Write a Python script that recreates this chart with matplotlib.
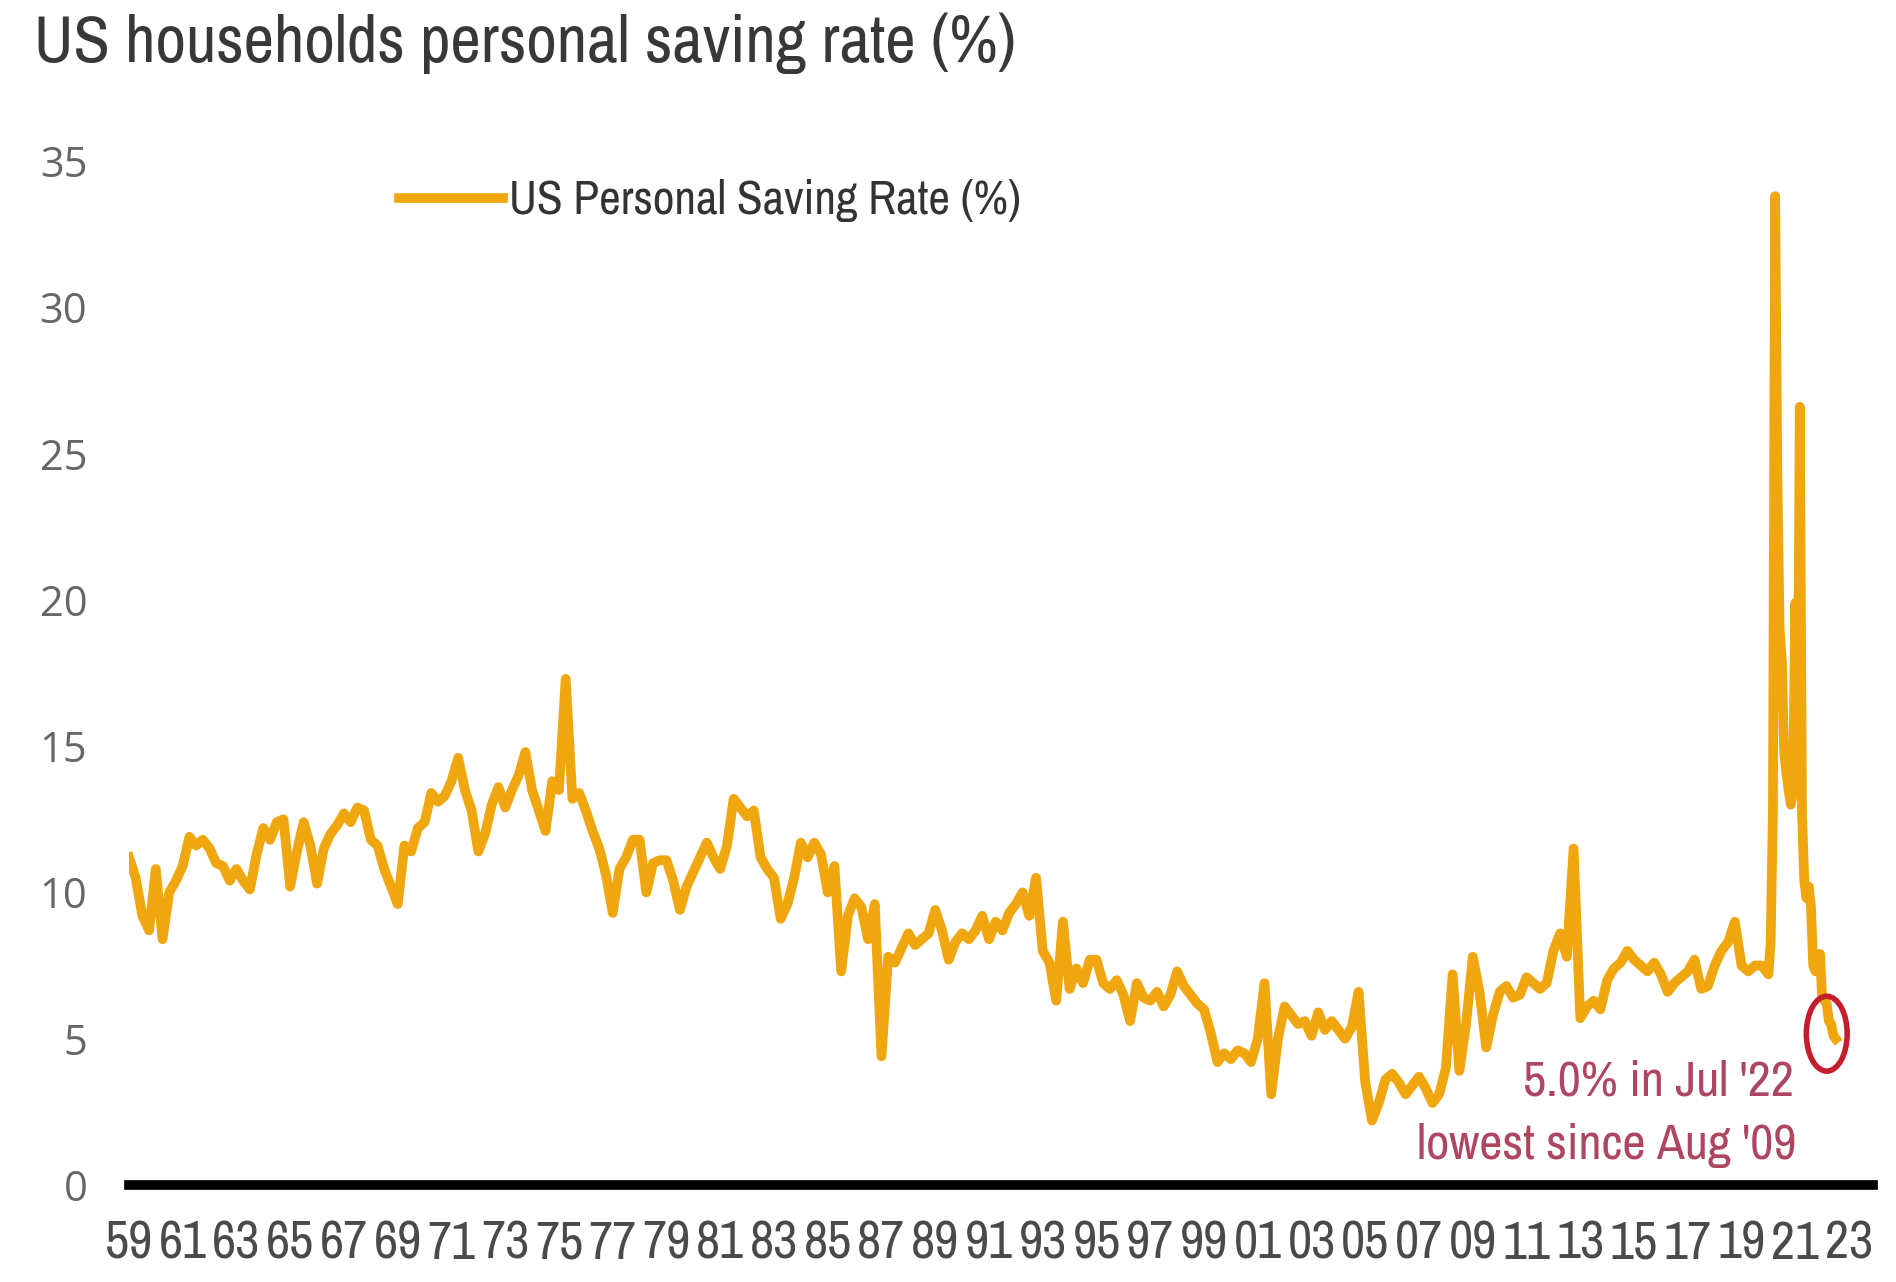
import numpy as np
import matplotlib
matplotlib.use('Agg')
import matplotlib.pyplot as plt
from matplotlib import font_manager
from matplotlib.patches import Ellipse

# personal saving rate, quarterly readings 1959-2019 (one row per year)
saving_q = [
    11.2, 10.5, 9.2, 8.7,     # 1959
    10.8, 8.4, 10.0, 10.4,    # 1960
    10.9, 11.9, 11.6, 11.8,   # 1961
    11.5, 11.0, 10.9, 10.4,   # 1962
    10.8, 10.4, 10.1, 11.3,   # 1963
    12.2, 11.8, 12.4, 12.5,   # 1964
    10.2, 11.4, 12.4, 11.6,   # 1965
    10.3, 11.5, 12.0, 12.3,   # 1966
    12.7, 12.4, 12.9, 12.8,   # 1967
    11.8, 11.6, 10.8, 10.2,   # 1968
    9.6, 11.6, 11.4, 12.2,    # 1969
    12.4, 13.4, 13.1, 13.3,   # 1970
    13.8, 14.6, 13.5, 12.8,   # 1971
    11.4, 12.0, 13.0, 13.6,   # 1972
    12.9, 13.5, 14.0, 14.8,   # 1973
    13.5, 12.8, 12.1, 13.8,   # 1974
    13.5, 17.3, 13.2, 13.4,   # 1975
    12.8, 12.1, 11.5, 10.6,   # 1976
    9.3, 10.8, 11.2, 11.8,    # 1977
    11.8, 10.0, 11.0, 11.1,   # 1978
    11.1, 10.4, 9.4, 10.2,    # 1979
    10.7, 11.2, 11.7, 11.2,   # 1980
    10.8, 11.6, 13.2, 12.9,   # 1981
    12.6, 12.8, 11.2, 10.8,   # 1982
    10.5, 9.1, 9.6, 10.5,     # 1983
    11.7, 11.2, 11.7, 11.3,   # 1984
    10.0, 10.9, 7.3, 9.2,     # 1985
    9.8, 9.5, 8.4, 9.6,       # 1986
    4.4, 7.8, 7.6, 8.1,       # 1987
    8.6, 8.2, 8.4, 8.6,       # 1988
    9.4, 8.7, 7.7, 8.3,       # 1989
    8.6, 8.4, 8.7, 9.2,       # 1990
    8.4, 9.0, 8.7, 9.3,       # 1991
    9.6, 10.0, 9.2, 10.5,     # 1992
    8.0, 7.6, 6.3, 9.0,       # 1993
    6.7, 7.4, 6.9, 7.7,       # 1994
    7.7, 6.9, 6.7, 7.0,       # 1995
    6.5, 5.6, 6.9, 6.4,       # 1996
    6.3, 6.6, 6.1, 6.5,       # 1997
    7.3, 6.8, 6.5, 6.2,       # 1998
    6.0, 5.2, 4.2, 4.5,       # 1999
    4.3, 4.6, 4.5, 4.2,       # 2000
    5.0, 6.9, 3.1, 5.0,       # 2001
    6.1, 5.8, 5.5, 5.6,       # 2002
    5.1, 5.9, 5.3, 5.6,       # 2003
    5.3, 5.0, 5.4, 6.6,       # 2004
    3.5, 2.2, 2.8, 3.6,       # 2005
    3.8, 3.5, 3.1, 3.4,       # 2006
    3.7, 3.3, 2.8, 3.1,       # 2007
    4.0, 7.2, 3.9, 5.5,       # 2008
    7.8, 6.6, 4.7, 5.8,       # 2009
    6.6, 6.8, 6.4, 6.5,       # 2010
    7.1, 6.9, 6.7, 6.9,       # 2011
    8.0, 8.6, 7.8, 11.5,      # 2012
    5.7, 6.1, 6.3, 6.0,       # 2013
    7.0, 7.4, 7.6, 8.0,       # 2014
    7.7, 7.5, 7.3, 7.6,       # 2015
    7.2, 6.6, 6.9, 7.1,       # 2016
    7.3, 7.7, 6.7, 6.8,       # 2017
    7.5, 8.0, 8.3, 9.0,       # 2018
    7.5, 7.3, 7.5, 7.5,       # 2019
]

# monthly from Jan 2020 to Jul 2022
saving_m = [
    7.2, 8.3, 12.8, 33.8, 24.2, 19.0, 17.9, 14.8, 14.1, 13.5, 13.0, 13.4,
    19.9, 13.4, 26.6, 12.7, 10.4, 9.8, 10.2, 9.5, 7.5, 7.3, 7.4, 7.9,
    6.4, 6.3, 6.2, 5.6, 5.5, 5.1, 5.0,
]

tick_years = list(range(1959, 2024, 2))
tick_labels = ["%02d" % (yr % 100) for yr in tick_years]

x_q = 1959 + np.arange(len(saving_q)) / 4
x_m = 2020 + np.arange(len(saving_m)) / 12
x = np.concatenate([x_q, x_m])
y = np.array(saving_q + saving_m)


def pick_narrow_font():
    # prefer a condensed sans if one is installed, else plain Liberation Sans
    for f in font_manager.fontManager.ttflist:
        nm = f.name.lower()
        if ('narrow' in nm or 'condensed' in nm) and 'mono' not in nm and 'serif' not in nm:
            return {'family': f.name, 'stretch': 'normal'}, 1.0
    for f in font_manager.fontManager.ttflist:
        if f.name == 'DejaVu Sans' and str(f.stretch) in ('condensed', 'semi-condensed'):
            return {'family': 'DejaVu Sans', 'stretch': 'condensed'}, 0.9
    return {'family': 'Liberation Sans', 'stretch': 'normal'}, 0.82


narrow, k = pick_narrow_font()
gold = '#F0A70F'
red_txt = '#AE4662'

fig = plt.figure(figsize=(18.96, 12.82), dpi=100)
ax = fig.add_axes([0.068, 0.0757, 0.920, 0.7987])

ax.plot(x, y, color=gold, lw=7, solid_joinstyle='round',
        label='US Personal Saving Rate (%)')
ax.axhline(0, color='black', lw=7, clip_on=False, zorder=3)

ax.set_xlim(1959, 2023.9)
ax.set_ylim(0, 35)
for s in ax.spines.values():
    s.set_visible(False)

ax.set_yticks(range(0, 36, 5))
ax.tick_params(axis='y', length=0, pad=30, labelsize=30, labelcolor='#666666')
for lab in ax.get_yticklabels():
    lab.set_fontfamily('Open Sans')

ax.set_xticks(tick_years)
ax.set_xticklabels(tick_labels, fontfamily=narrow['family'], fontstretch=narrow['stretch'],
                   fontsize=38 * k, color='#4a4a4a')
ax.tick_params(axis='x', length=0, pad=25)

ax.legend(loc='upper left', bbox_to_anchor=(0.155, 0.982), frameon=False,
          handlelength=2.2 / k, handletextpad=0.12, borderpad=0, borderaxespad=0,
          prop={'family': narrow['family'], 'stretch': narrow['stretch'], 'size': 34 * k},
          labelcolor='#333333')

fig.text(0.018, 0.966, 'US households personal saving rate (%)',
         fontfamily=narrow['family'], fontstretch=narrow['stretch'],
         fontsize=48 * k, color='#383838', va='center', ha='left')

# circle and note on the latest reading
x_last, y_last = x[-1], y[-1]
ax.add_patch(Ellipse((x_last - 0.33, y_last + 0.17), 1.52, 2.56, fill=False,
                     edgecolor='#C41E2E', lw=4, zorder=4))
note = dict(textcoords='offset points', ha='right', va='center',
            fontfamily=narrow['family'], fontstretch=narrow['stretch'],
            fontsize=36.5 * k, color=red_txt)
ax.annotate("%.1f%% in Jul '22" % y_last, xy=(x_last, y_last), xytext=(-30, -31), **note)
ax.annotate("lowest since Aug '09", xy=(x_last, y_last), xytext=(-28, -77), **note)

fig.savefig('out.png', dpi=100, facecolor='white')
